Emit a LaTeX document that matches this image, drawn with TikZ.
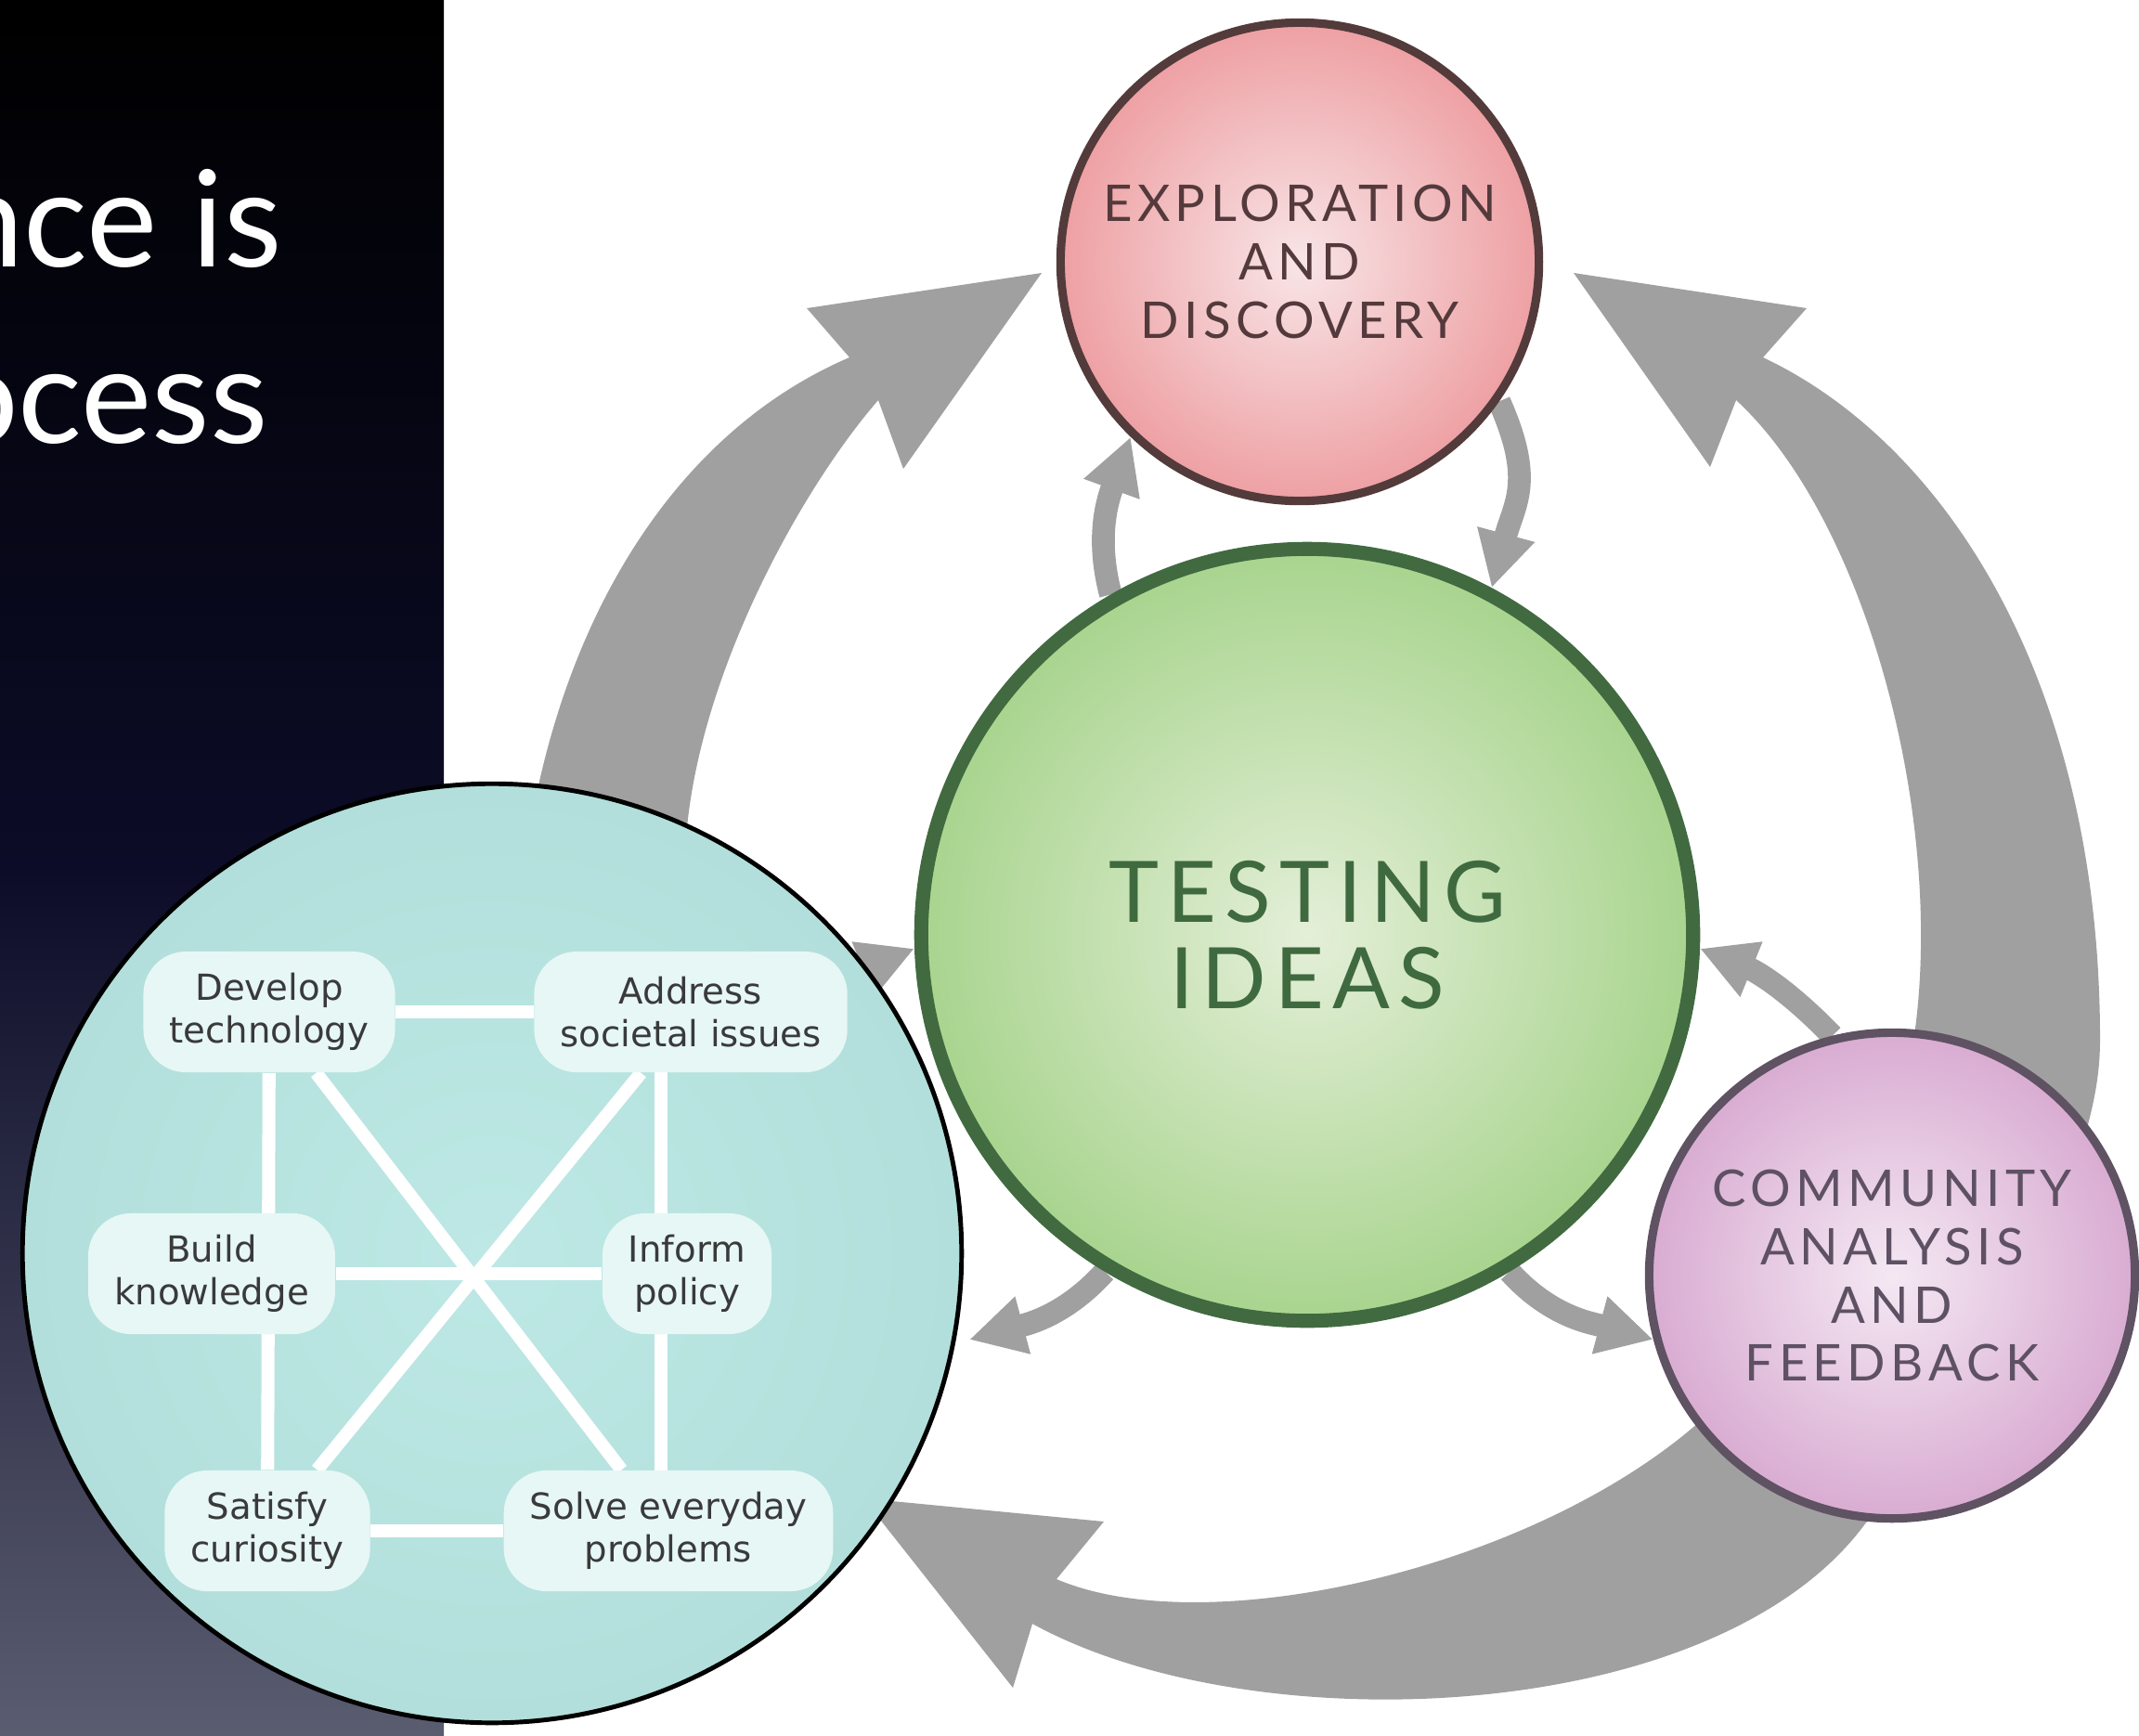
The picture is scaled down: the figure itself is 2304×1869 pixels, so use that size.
\documentclass[tikz,border=0pt]{standalone}
\usepackage{fontspec}
\usetikzlibrary{arrows.meta}

\newfontfamily\ringfont{Lato}[LetterSpace=10]
\newfontfamily\titlefont{Lato}
\newfontfamily\goalfont{DejaVu Sans}

\definecolor{flowgray}{HTML}{A0A0A0}
\definecolor{panelmid}{HTML}{0C0C28}
\definecolor{panelbottom}{HTML}{5A5C70}
\definecolor{exploretext}{HTML}{543A3C}
\definecolor{explorerim}{HTML}{533B3C}
\definecolor{exploreinner}{HTML}{F8E5E7}
\definecolor{exploreouter}{HTML}{EEA0A3}
\definecolor{testingtext}{HTML}{3F6A40}
\definecolor{testingrim}{HTML}{416A41}
\definecolor{testinginner}{HTML}{E4EFD8}
\definecolor{testingouter}{HTML}{A8D48E}
\definecolor{feedbacktext}{HTML}{5E5164}
\definecolor{feedbackrim}{HTML}{5F5263}
\definecolor{feedbackinner}{HTML}{F4E8F3}
\definecolor{feedbackouter}{HTML}{D9ACD2}
\definecolor{tealinner}{HTML}{BDE8E5}
\definecolor{tealouter}{HTML}{B2DFDB}
\definecolor{goalfill}{HTML}{E6F7F6}
\definecolor{goaltext}{HTML}{3A3A3A}

\pgfdeclarelayer{back}
\pgfdeclarelayer{front}
\pgfsetlayers{back,main,front}

\begin{document}
\begin{tikzpicture}[x=0.01cm,y=0.01cm,
    bubble/.style={circle,inner sep=0pt,align=center},
    flow/.style={fill=flowgray},
    minor/.style={draw=flowgray,line width=7pt,-{Triangle[width=17pt,length=17pt]}},
    goal/.style={fill=goalfill,rounded corners=13pt,align=center,text=goaltext,
      font=\goalfont\fontsize{11}{13}\selectfont,minimum height=1.3cm,inner xsep=8pt},
    link/.style={draw=white,line width=4pt}]

    \useasboundingbox (0,0) rectangle (2304,-1869);

    \node[bubble,draw=explorerim,line width=2.6pt,minimum size=5.15cm,
          inner color=exploreinner,outer color=exploreouter,text=exploretext,
          font=\ringfont\fontsize{15.5}{17.9}\selectfont] (explore) at (1400,-282)
          {EXPLORATION\\AND\\DISCOVERY};
    \node[bubble,draw=testingrim,line width=4.3pt,minimum size=8.31cm,
          inner color=testinginner,outer color=testingouter,text=testingtext,
          font=\ringfont\fontsize{26}{26.5}\selectfont] (testing) at (1408,-1007)
          {TESTING\\IDEAS};
    \node[bubble,draw=feedbackrim,line width=2.6pt,minimum size=5.23cm,
          inner color=feedbackinner,outer color=feedbackouter,text=feedbacktext,
          font=\ringfont\fontsize{15.5}{17.9}\selectfont] (feedback) at (2038,-1374)
          {COMMUNITY\\ANALYSIS\\AND\\FEEDBACK};

    \node[bubble,draw=black,line width=1.4pt,minimum size=10.11cm,
          inner color=tealinner,outer color=tealouter] (goals) at (530,-1350) {};

    \begin{pgfonlayer}{front}
    \node[goal] (dev) at (290,-1090) {Develop\\technology};
    \node[goal] (addr) at (744,-1090) {Address\\societal issues};
    \node[goal] (build) at (228,-1372) {Build\\knowledge};
    \node[goal] (inform) at (740,-1372) {Inform\\policy};
    \node[goal] (satisfy) at (288,-1649) {Satisfy\\curiosity};
    \node[goal] (solve) at (720,-1649) {Solve everyday\\problems};
    \end{pgfonlayer}

    \draw[link] (dev) -- (addr);
    \draw[link] (build) -- (inform);
    \draw[link] (satisfy) -- (solve);
    \draw[link] (dev) -- (satisfy);
    \draw[link] ([xshift=-0.32cm]addr.center) -- ([xshift=-0.32cm]addr.center |- solve.center);
    \draw[link] (dev) -- (solve);
    \draw[link] (addr) -- (satisfy);

    \begin{pgfonlayer}{back}
    \fill[white] (0,0) rectangle (2304,-1869);
    \shade[top color=black,bottom color=panelbottom,middle color=panelmid]
        (0,0) rectangle (478,-1869);
    \begin{scope}
        \clip (0,0) rectangle (478,-1869);
        \node[anchor=base east,inner sep=0pt,text=white,
              font=\titlefont\fontsize{41}{50}\selectfont] (title1) at (304,-287) {Science is};
        \node[anchor=base east,inner sep=0pt,text=white,
              font=\titlefont\fontsize{41}{50}\selectfont] (title2) at (289,-477) {a process};
    \end{scope}

    \coordinate (d5end) at (1044,-1443);
    \coordinate (d6start) at (849,-1113);

    \fill[flow] (560,-960) -- (575,-870) .. controls (620,-640) and (740,-460) .. (915,-385)
        -- (869,-332) -- (1122,-294) -- (973,-505) -- (946,-431)
        .. controls (860,-530) and (745,-740) .. (738,-920) -- (735,-960) -- cycle;
    \fill[flow] (2235,-1260) .. controls (2250,-1210) and (2262,-1170) .. (2262,-1120)
        .. controls (2262,-740) and (2100,-480) .. (1899,-385)
        -- (1946,-332) -- (1695,-294) -- (1842,-503) -- (1870,-431)
        .. controls (2010,-560) and (2095,-880) .. (2062,-1115) -- (2075,-1180) -- cycle;
    \fill[flow] (2030,-1625) -- (2010,-1640) .. controls (1850,-1860) and (1350,-1880) .. (1112,-1749)
        -- (1091,-1818) -- (930,-1614) -- (1189,-1639) -- (1138,-1701)
        .. controls (1300,-1770) and (1650,-1690) .. (1830,-1532) -- (1870,-1500) -- cycle;

    \draw[minor] (testing.120) to[out=105,in=250] (explore.226);
    \draw[minor] (explore.325) to[out=-66,in=75,looseness=1.2] (testing.62);
    \draw[minor] (feedback.104) to[out=134,in=-22] (testing.358);
    \draw[minor] (testing.301) to[out=-48,in=165] (feedback.195);
    \draw[minor] (testing.239) to[out=228,in=15] (d5end);
    \draw[minor] (d6start) to[out=46,in=202] (testing.182);
    \end{pgfonlayer}
\end{tikzpicture}
\end{document}
